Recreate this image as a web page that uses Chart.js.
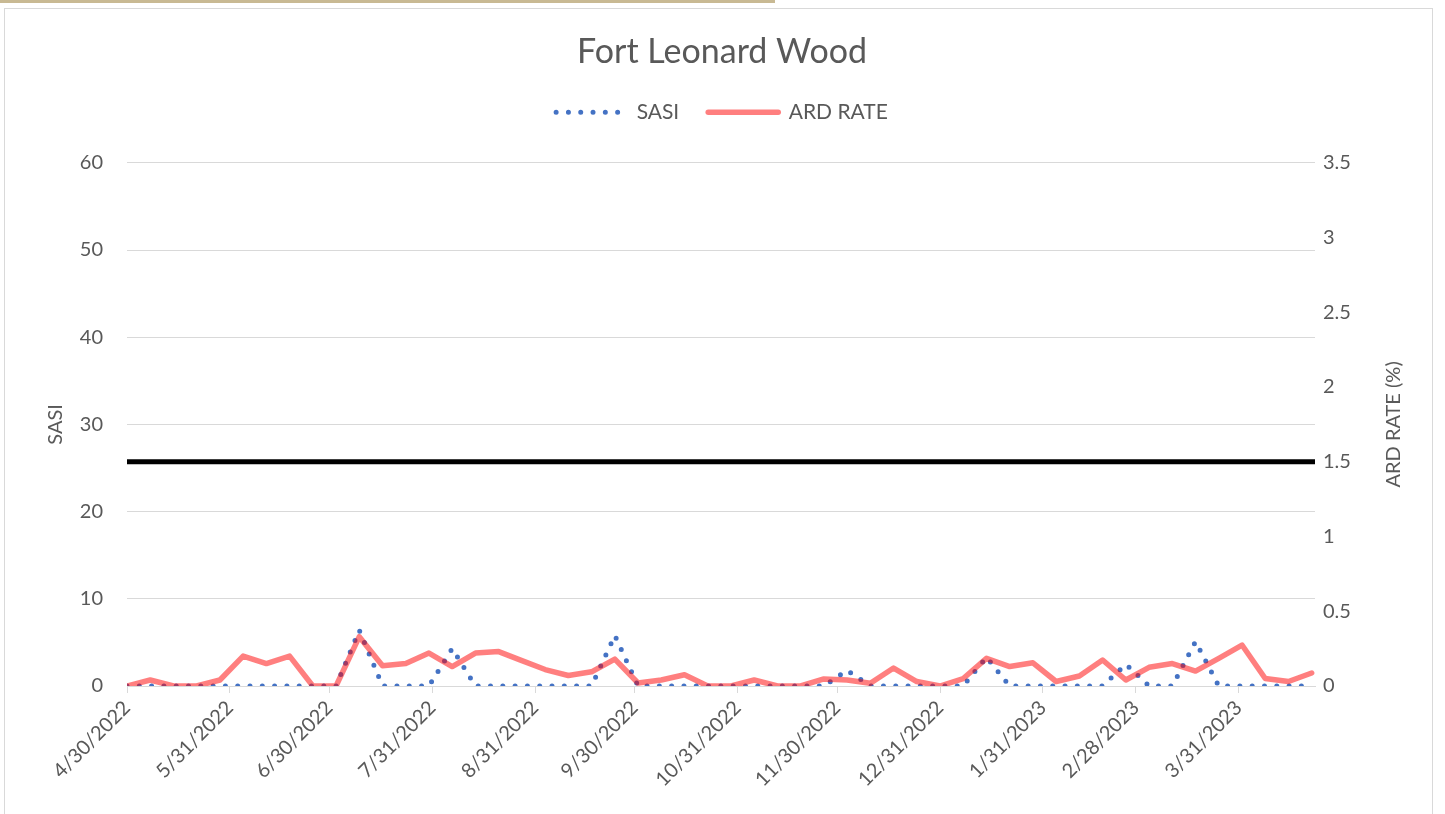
<!DOCTYPE html>
<html>
<head>
<meta charset="utf-8">
<script src="https://cdn.jsdelivr.net/npm/chart.js@4.4.0/dist/chart.umd.min.js"></script>
<style>
  body { margin: 0; background: #fff; overflow: hidden; }
  #topbar { position: absolute; left: 0; top: 0; width: 775px; height: 3px; background: #c8b993; }
  #box { position: absolute; left: 4px; top: 8px; width: 1427px; height: 830px; border: 1px solid #d9d9d9; }
</style>
</head>
<body>
<div id="topbar"></div>
<div id="box"><canvas id="chart"></canvas></div>
<script>
// weekly reporting dates
const weekDates = [
  '4/30/2022', '5/7/2022', '5/14/2022', '5/21/2022', '5/28/2022', '6/4/2022', '6/11/2022', '6/18/2022', '6/25/2022',
  '7/2/2022', '7/9/2022', '7/16/2022', '7/23/2022', '7/30/2022', '8/6/2022', '8/13/2022', '8/20/2022', '8/27/2022',
  '9/3/2022', '9/10/2022', '9/17/2022', '9/24/2022', '10/1/2022', '10/8/2022', '10/15/2022', '10/22/2022', '10/29/2022',
  '11/5/2022', '11/12/2022', '11/19/2022', '11/26/2022', '12/3/2022', '12/10/2022', '12/17/2022', '12/24/2022', '12/31/2022',
  '1/7/2023', '1/14/2023', '1/21/2023', '1/28/2023', '2/4/2023', '2/11/2023', '2/18/2023', '2/25/2023',
  '3/4/2023', '3/11/2023', '3/18/2023', '3/25/2023', '4/1/2023', '4/8/2023', '4/15/2023', '4/22/2023'
];

const sasi = [
  0, 0, 0, 0, 0, 0, 0, 0, 0, 0,
  6.4, 0, 0, 0, 4.3, 0, 0, 0, 0, 0,
  0, 5.8, 0, 0, 0, 0, 0, 0, 0, 0,
  0, 1.8, 0, 0, 0, 0, 0, 3.3, 0, 0,
  0, 0, 0, 2.5, 0, 0, 5.1, 0, 0, 0,
  0, 0
];

const ardRate = [
  0, 0.04, 0, 0, 0.04, 0.20, 0.15, 0.20, 0, 0,
  0.33, 0.135, 0.15, 0.22, 0.13, 0.22, 0.23, 0.17, 0.11, 0.07,
  0.095, 0.18, 0.02, 0.04, 0.075, 0, 0, 0.04, 0, 0,
  0.047, 0.04, 0.018, 0.12, 0.03, 0, 0.05, 0.185, 0.13, 0.155,
  0.03, 0.067, 0.174, 0.04, 0.125, 0.15, 0.10, 0.185, 0.274, 0.05,
  0.03, 0.087
];

// threshold line on the ARD RATE axis
const thresholdDates = ['4/30/2022', '4/23/2023'];
const threshold = [1.5, 1.5];

const tickLabels = [
  '4/30/2022', '5/31/2022', '6/30/2022', '7/31/2022', '8/31/2022', '9/30/2022',
  '10/31/2022', '11/30/2022', '12/31/2022', '1/31/2023', '2/28/2023', '3/31/2023'
];
const axisEnd = '4/23/2023';
const rightTitle = 'ARD RATE (%)';

const day0 = new Date(weekDates[0]);
const dayOf = s => Math.round((new Date(s) - day0) / 864e5);

const grey = '#595959';
Chart.defaults.font.family = 'Lato';
Chart.defaults.color = grey;

// extra room under the legend
const legendGap = {
  id: 'legendGap',
  beforeInit(chart) {
    const fit = chart.legend.fit;
    chart.legend.fit = function () {
      fit.bind(chart.legend)();
      this.height += 30;
    };
  }
};

// right axis title reads bottom-to-top like the left one
const rightAxisTitle = {
  id: 'rightAxisTitle',
  afterDraw(chart) {
    const { ctx, chartArea } = chart;
    const s = chart.scales.y1;
    ctx.save();
    ctx.translate(s.right - 38, (chartArea.top + chartArea.bottom) / 2);
    ctx.rotate(-Math.PI / 2);
    ctx.font = '20px Lato';
    ctx.fillStyle = grey;
    ctx.textAlign = 'center';
    ctx.textBaseline = 'middle';
    ctx.fillText(rightTitle, 0, 0);
    ctx.restore();
  }
};

new Chart(document.getElementById('chart'), {
  type: 'line',
  data: {
    datasets: [
      {
        label: 'SASI',
        data: weekDates.map((d, i) => ({ x: dayOf(d), y: sasi[i] })),
        yAxisID: 'y',
        borderColor: '#4472c4',
        borderWidth: 5,
        borderDash: [0, 12.3],
        borderCapStyle: 'round',
        pointRadius: 0,
        order: 2
      },
      {
        label: 'ARD RATE',
        data: weekDates.map((d, i) => ({ x: dayOf(d), y: ardRate[i] })),
        yAxisID: 'y1',
        borderColor: 'rgba(255, 0, 0, 0.5)',
        borderWidth: 5.5,
        borderJoinStyle: 'round',
        borderCapStyle: 'round',
        pointRadius: 0,
        order: 1
      },
      {
        label: '',
        data: thresholdDates.map((d, i) => ({ x: dayOf(d), y: threshold[i] })),
        yAxisID: 'y1',
        borderColor: '#000',
        borderWidth: 5,
        pointRadius: 0,
        order: 0
      }
    ]
  },
  options: {
    responsive: true,
    maintainAspectRatio: false,
    animation: false,
    layout: { padding: { left: 7 } },
    plugins: {
      title: {
        display: true,
        text: 'Fort Leonard Wood',
        color: grey,
        font: { size: 34, weight: 'normal' },
        padding: { top: 23, bottom: 0 }
      },
      legend: {
        position: 'top',
        labels: {
          usePointStyle: true,
          pointStyleWidth: 70,
          padding: 29,
          color: grey,
          font: { size: 21 },
          generateLabels: chart => chart.data.datasets.slice(0, 2).map((ds, i) => ({
            text: ds.label,
            datasetIndex: i,
            strokeStyle: ds.borderColor,
            fillStyle: ds.borderColor,
            lineWidth: ds.borderWidth,
            lineDash: ds.borderDash || [],
            lineCap: ds.borderCapStyle || 'butt',
            pointStyle: 'line',
            fontColor: grey,
            hidden: false
          }))
        }
      },
      tooltip: { enabled: false }
    },
    scales: {
      x: {
        type: 'linear',
        min: 0,
        max: dayOf(axisEnd),
        afterBuildTicks: scale => { scale.ticks = tickLabels.map(s => ({ value: dayOf(s) })); },
        afterFit: scale => { scale.height = 153; },
        ticks: {
          autoSkip: false,
          maxRotation: 45,
          minRotation: 45,
          color: grey,
          font: { size: 20 },
          callback: (v, i) => tickLabels[i]
        },
        grid: { drawOnChartArea: false, drawTicks: true, tickLength: 7, tickColor: '#d9d9d9' },
        border: { color: '#d9d9d9' }
      },
      y: {
        position: 'left',
        min: 0,
        max: 60,
        afterFit: scale => { scale.width = 115; },
        ticks: { stepSize: 10, color: grey, font: { size: 20 }, padding: 24 },
        grid: { color: '#d9d9d9', drawTicks: false },
        border: { display: false },
        title: { display: true, text: 'SASI', color: grey, font: { size: 20 }, padding: { top: 32, bottom: 0 } }
      },
      y1: {
        position: 'right',
        min: 0,
        max: 3.5,
        afterFit: scale => { scale.width = 117; },
        ticks: { stepSize: 0.5, color: grey, font: { size: 20 }, padding: 8, callback: v => String(v) },
        grid: { display: false, drawTicks: false },
        border: { display: false }
      }
    }
  },
  plugins: [legendGap, rightAxisTitle]
});
</script>
</body>
</html>
